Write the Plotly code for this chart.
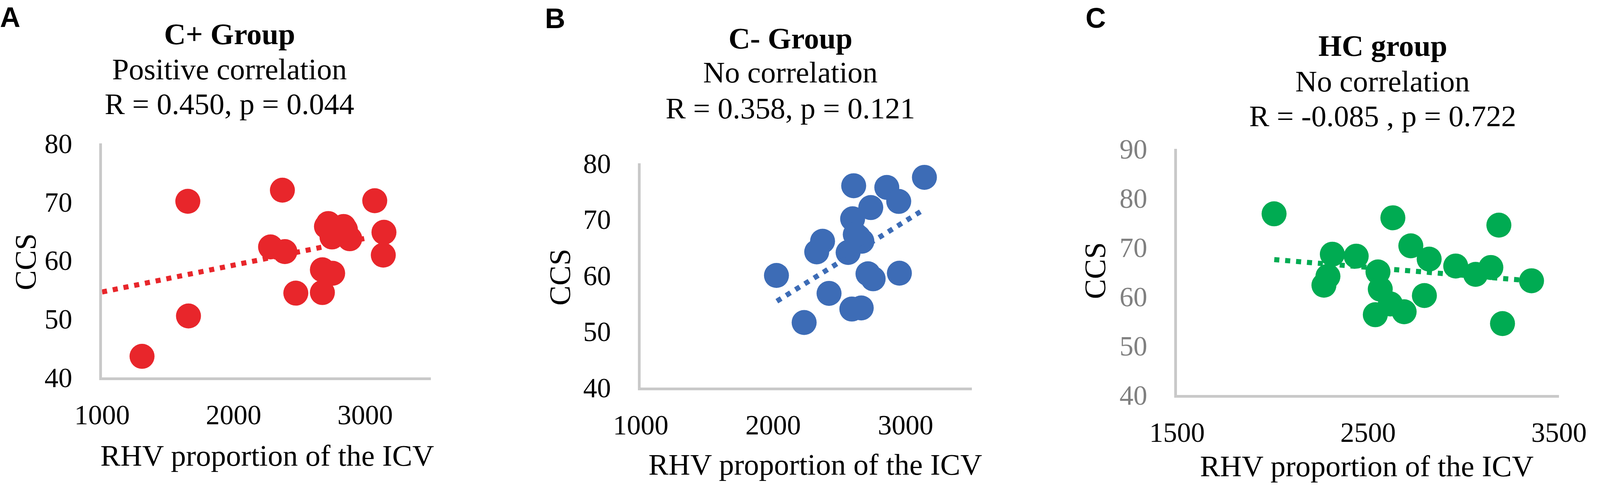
import plotly.graph_objects as go

# ---------------- data ----------------
a_x = [1304, 1652, 1657, 2371, 2281, 2390, 2473, 2675, 2675, 2753, 2706, 2748, 2836, 2883, 3073, 3143, 3138, 2720, 2790, 2850]
a_y = [43.6, 70.1, 50.5, 72.0, 62.3, 61.5, 54.4, 54.5, 58.4, 57.8, 65.8, 64.0, 65.8, 63.7, 70.2, 64.8, 60.9, 66.3, 65.0, 65.3]

b_x = [2025, 2234, 2329, 2373, 2422, 2566, 2600, 2608, 2644, 2670, 2594, 2665, 2737, 2716, 2755, 2858, 2948, 2953, 3142, 2620]
b_y = [60.0, 51.6, 64.2, 66.1, 56.8, 64.1, 70.1, 76.0, 66.8, 66.1, 54.0, 54.2, 72.1, 60.3, 59.4, 75.7, 73.2, 60.4, 77.5, 67.3]

c_x = [2008, 2269, 2290, 2313, 2438, 2538, 2552, 2564, 2617, 2630, 2689, 2724, 2795, 2820, 2959, 3063, 3143, 3185, 3204, 3356]
c_y = [76.8, 62.3, 64.1, 68.6, 68.2, 56.3, 65.0, 61.5, 58.5, 76.0, 56.9, 70.3, 60.2, 67.6, 66.2, 64.5, 65.9, 74.5, 54.5, 63.2]

# linear trendlines (Excel), endpoints
trend_a_x = [1000, 3030]
trend_a_y = [54.6, 63.9]
trend_b_x = [2028, 3114]
trend_b_y = [55.4, 71.4]
trend_c_x = [2009, 3317]
trend_c_y = [67.5, 63.3]

panel_letters = ["A", "B", "C"]
titles = ["C+ Group", "C- Group", "HC group"]
subtitles = ["Positive correlation", "No correlation", "No correlation"]
stats = ["R = 0.450, p = 0.044", "R = 0.358, p = 0.121", "R = -0.085 , p = 0.722"]
x_ranges = [[1000, 3500], [1000, 3500], [1500, 3500]]
x_tick0 = [1000, 1000, 1500]
y_ranges = [[40, 80], [40, 80], [40, 90]]
x_dticks = [1000, 1000, 1000]
y_dticks = [10, 10, 10]
x_label = "RHV proportion of the ICV"
y_label = "CCS"

# ---------------- styling / layout ----------------
W, H = 4218, 1244
colors = ["#E8262B", "#3D6CB6", "#00AB52"]
ytick_colors = ["#000000", "#000000", "#808080"]
SERIF = "Liberation Serif"
SANS = "Liberation Sans"

# plot areas in pixels of the 4218-wide reference: (left, right, top, bottom)
areas = [(269, 1136, 367, 966), (1689, 2562, 418, 992), (3103, 4110, 381, 1011)]
title_cx = [605, 2084, 3645]
title_cy = [(87, 177, 266), (98, 185, 277), (117, 208, 297)]
xtitle_pos = [(704, 1166), (2149, 1189), (3603, 1193)]
ytitle_pos = [(67, 670), (1476, 709), (2886, 693)]
letter_pos = [(27, 44), (1463, 47), (2889, 46)]


def px(x):
    return x / W


def py(y):
    return 1 - y / H


fig = go.Figure()
layout = dict(height=H, autosize=True, margin=dict(l=0, r=0, t=0, b=0, pad=0),
              paper_bgcolor="white", plot_bgcolor="white", showlegend=False)
annotations = []
series = [(a_x, a_y), (b_x, b_y), (c_x, c_y)]
trends = [(trend_a_x, trend_a_y), (trend_b_x, trend_b_y), (trend_c_x, trend_c_y)]

for i, (xs, ys) in enumerate(series):
    n = "" if i == 0 else str(i + 1)
    xa, ya = "x" + n, "y" + n

    fig.add_trace(go.Scatter(x=xs, y=ys, mode="markers", xaxis=xa, yaxis=ya,
                             marker=dict(size=64, color=colors[i], line=dict(width=0)),
                             hoverinfo="skip"))
    fig.add_trace(go.Scatter(x=trends[i][0], y=trends[i][1], mode="lines", xaxis=xa, yaxis=ya,
                             line=dict(color=colors[i], width=13, dash="13px,15px"),
                             hoverinfo="skip"))

    l, r, t, b = areas[i]
    axis_common = dict(showgrid=False, zeroline=False, showline=True, automargin=False,
                       linecolor="#C9C9C9", linewidth=7, ticks="", ticklabeloverflow="allow")
    layout["xaxis" + n] = dict(axis_common, domain=[px(l), px(r)], anchor=ya,
                               range=x_ranges[i], dtick=x_dticks[i], tick0=x_tick0[i],
                               tickfont=dict(family=SERIF, size=71, color="#000000"),
                               ticklabelstandoff=28)
    layout["yaxis" + n] = dict(axis_common, domain=[py(b), py(t)], anchor=xa,
                               range=y_ranges[i], dtick=y_dticks[i], tick0=0,
                               tickfont=dict(family=SERIF, size=71, color=ytick_colors[i]),
                               ticklabelstandoff=55)

    def ann(text, x, y, size=77, family=SERIF, angle=0):
        annotations.append(dict(text=text, x=px(x), y=py(y), xref="paper", yref="paper",
                                showarrow=False, xanchor="center", yanchor="middle",
                                textangle=angle, font=dict(family=family, size=size, color="#000000")))

    ann("<b>" + titles[i] + "</b>", title_cx[i], title_cy[i][0])
    ann(subtitles[i], title_cx[i], title_cy[i][1])
    ann(stats[i], title_cx[i], title_cy[i][2])
    ann(x_label, xtitle_pos[i][0], xtitle_pos[i][1])
    ann(y_label, ytitle_pos[i][0], ytitle_pos[i][1], angle=-90)
    ann("<b>" + panel_letters[i] + "</b>", letter_pos[i][0], letter_pos[i][1], size=72, family=SANS)

layout["annotations"] = annotations
fig.update_layout(**layout)
fig.write_html(
    "out.html",
    config={"displayModeBar": False, "responsive": True},
    default_width="100%",
    default_height="1244px",
    post_script=(
        "document.documentElement.style.margin='0px';"
        "document.documentElement.style.overflow='hidden';"
        "document.body.style.margin='0px';"
        "document.body.style.overflow='hidden';"
        "Plotly.Plots.resize(document.getElementById('{plot_id}'));"
    ),
)
